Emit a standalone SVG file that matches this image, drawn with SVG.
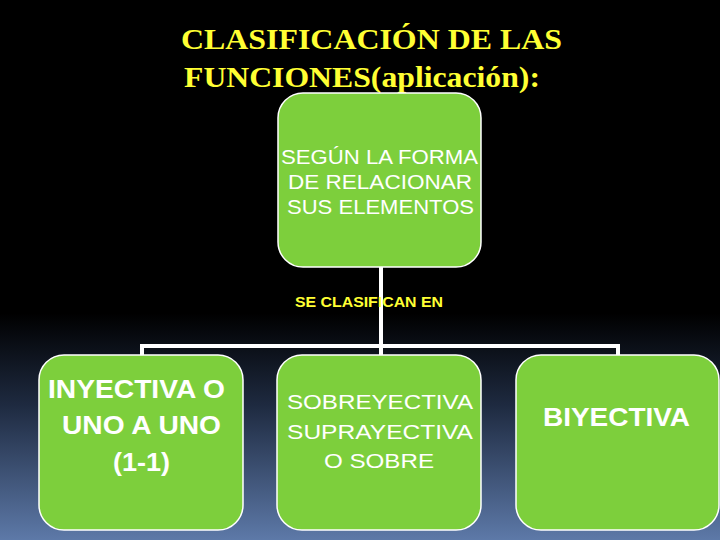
<svg xmlns="http://www.w3.org/2000/svg" width="720" height="540" viewBox="0 0 720 540">
<defs>
<linearGradient id="bg" x1="0" y1="0" x2="0" y2="1">
<stop offset="0" stop-color="#000000"/>
<stop offset="0.58" stop-color="#000000"/>
<stop offset="0.75" stop-color="#1e2a40"/>
<stop offset="1" stop-color="#5d79a8"/>
</linearGradient>
<style>
.box{fill:#7dcf3c;stroke:#ffffff;stroke-width:1.5}
.con{stroke:#ffffff;stroke-width:4;fill:none}
.t{font-family:"Liberation Sans",Arial,sans-serif;fill:#ffffff;text-anchor:middle}
.title{font-family:"Liberation Serif","Times New Roman",serif;fill:#ffff33;font-size:29px;font-weight:bold}
</style>
</defs>
<rect width="720" height="540" fill="url(#bg)"/>
<text class="title" x="181" y="49" textLength="381" lengthAdjust="spacingAndGlyphs">CLASIFICACIÓN DE LAS</text>
<text class="title" x="184" y="87" textLength="356" lengthAdjust="spacingAndGlyphs">FUNCIONES(aplicación):</text>
<g id="connectors">
<path class="con" d="M381 267 V346 M142 356 V346 H618 V356 M381 346 V356"/>
</g>
<text x="295" y="307" font-family="Liberation Sans,Arial,sans-serif" font-weight="bold" font-size="15" fill="#ffff33" textLength="148" lengthAdjust="spacingAndGlyphs">SE CLASIFICAN EN</text>
<g id="n-root">
<rect class="box" x="278" y="93" width="203" height="174" rx="25"/>
<text class="t" font-size="20"><tspan x="379.5" y="164" textLength="197" lengthAdjust="spacingAndGlyphs">SEGÚN LA FORMA</tspan><tspan x="380" y="189" textLength="184" lengthAdjust="spacingAndGlyphs">DE RELACIONAR</tspan><tspan x="380.5" y="214" textLength="187" lengthAdjust="spacingAndGlyphs">SUS ELEMENTOS</tspan></text>
</g>
<g id="n-inyectiva">
<rect class="box" x="39" y="355" width="204" height="175" rx="25"/>
<text class="t" font-size="26" font-weight="bold"><tspan x="136.5" y="398" textLength="177" lengthAdjust="spacingAndGlyphs">INYECTIVA O</tspan><tspan x="141.5" y="434" textLength="159" lengthAdjust="spacingAndGlyphs">UNO A UNO</tspan><tspan x="141.5" y="471" textLength="57" lengthAdjust="spacingAndGlyphs">(1-1)</tspan></text>
</g>
<g id="n-sobreyectiva">
<rect class="box" x="277" y="355" width="204" height="175" rx="25"/>
<text class="t" font-size="21"><tspan x="380" y="409" textLength="186" lengthAdjust="spacingAndGlyphs">SOBREYECTIVA</tspan><tspan x="380" y="439" textLength="186" lengthAdjust="spacingAndGlyphs">SUPRAYECTIVA</tspan><tspan x="379" y="468" textLength="110" lengthAdjust="spacingAndGlyphs">O SOBRE</tspan></text>
</g>
<g id="n-biyectiva">
<rect class="box" x="516" y="355" width="203" height="175" rx="25"/>
<text class="t" font-size="25" font-weight="bold"><tspan x="616.5" y="426" textLength="147" lengthAdjust="spacingAndGlyphs">BIYECTIVA</tspan></text>
</g>
</svg>
